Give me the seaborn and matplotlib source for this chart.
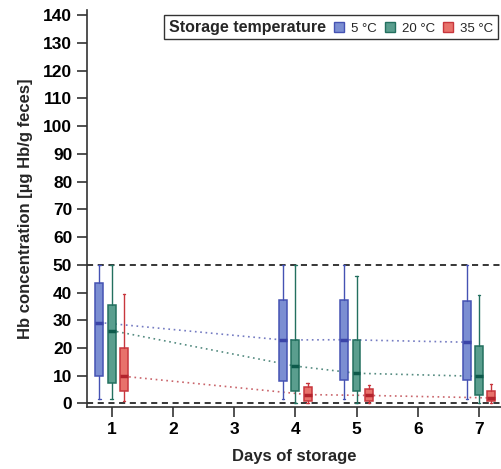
import numpy as np
import matplotlib
matplotlib.use("Agg")
import matplotlib.pyplot as plt
import seaborn as sns
import pandas as pd
from matplotlib.patches import Rectangle

# values
days = [1, 4, 5, 7]
temps = ["5 °C", "20 °C", "35 °C"]
offsets = [-0.2, 0.0, 0.2]
fill_colors = ["#7b8ed2", "#5a9e8e", "#e8726b"]
edge_colors = ["#4552b3", "#23705f", "#c8363d"]
median_colors = ["#3a44a8", "#0d5a4b", "#b3232c"]

whisk_lo = {"5 °C": [1.5, 1.5, 1.5, 1.5], "20 °C": [1.5, 0.3, 0.3, 0.3], "35 °C": [1.0, 0.3, 0.2, 0.2]}
q1 = {"5 °C": [10, 8, 8.5, 8.5], "20 °C": [7.5, 4.5, 4.5, 3.2], "35 °C": [4.5, 1.0, 1.0, 0.8]}
med = {"5 °C": [29.2, 22.9, 23.0, 22.1], "20 °C": [26.3, 13.5, 10.9, 9.8], "35 °C": [9.8, 3.2, 2.9, 2.0]}
q3 = {"5 °C": [43.5, 37.2, 37.5, 36.8], "20 °C": [35.6, 23.0, 23.0, 20.8], "35 °C": [20.0, 6.0, 5.3, 4.6]}
whisk_hi = {"5 °C": [50, 50, 50, 50], "20 °C": [50, 50, 45.8, 39.0], "35 °C": [39.5, 7.3, 6.8, 7.2]}

sns.set_style("ticks")
plt.rcParams["font.family"] = ["Liberation Sans", "DejaVu Sans"]
fig = plt.figure(figsize=(5.02, 4.69), dpi=100)
ax = fig.add_axes([0.173, 0.132, 0.827, 0.846])

# median trend lines
rows = []
for t, off in zip(temps, offsets):
    for i, d in enumerate(days):
        rows.append({"x": d + off, "median": med[t][i], "temp": t})
df = pd.DataFrame(rows)
sns.lineplot(data=df, x="x", y="median", hue="temp", palette=dict(zip(temps, median_colors)),
             linestyle=(0, (1, 2.2)), linewidth=1.2, legend=False, ax=ax, alpha=0.7, zorder=2)

for k, (t, off) in enumerate(zip(temps, offsets)):
    stats = []
    for i, d in enumerate(days):
        stats.append({"whislo": whisk_lo[t][i], "q1": q1[t][i], "med": med[t][i],
                      "q3": q3[t][i], "whishi": whisk_hi[t][i], "fliers": []})
    ax.bxp(stats, positions=[d + off for d in days], widths=0.13, patch_artist=True,
           showfliers=False, manage_ticks=False,
           boxprops=dict(facecolor=fill_colors[k], edgecolor=edge_colors[k], linewidth=1.1),
           whiskerprops=dict(color=edge_colors[k], linewidth=1.0),
           capprops=dict(color=edge_colors[k], linewidth=1.0),
           medianprops=dict(color=median_colors[k], linewidth=2.5),
           capwidths=0.04, zorder=3)

ax.axhline(50, color="black", linestyle=(0, (4, 3)), linewidth=1.1, zorder=1)
ax.axhline(0, color="black", linestyle=(0, (4, 3)), linewidth=1.1, zorder=1)

ax.set_xlim(0.596, 7.376)
ax.set_ylim(-1.3, 141.8)
ax.set_xticks(range(1, 8))
ax.set_yticks(range(0, 141, 10))
ax.tick_params(axis="both", labelsize=12.5, width=1.2, length=7, colors="#333333", labelcolor="black")
for lab in ax.get_xticklabels() + ax.get_yticklabels():
    lab.set_fontweight("bold")
ax.spines["left"].set_color("#333333")
ax.spines["bottom"].set_color("#333333")
ax.spines["left"].set_linewidth(1.2)
ax.spines["bottom"].set_linewidth(1.2)
sns.despine(ax=ax)

ax.set_xlabel("Days of storage", fontsize=12, fontweight="bold", labelpad=9)
ax.set_ylabel("Hb concentration [µg Hb/g feces]", fontsize=12, fontweight="bold", labelpad=7)

handles = [Rectangle((0, 0), 1, 1, visible=False)]
handles += [Rectangle((0, 0), 1, 1, facecolor=fill_colors[k], edgecolor=edge_colors[k]) for k in range(3)]
labels = ["Storage temperature"] + temps
leg = ax.legend(handles, labels, ncol=4, loc="upper right", bbox_to_anchor=(0.996, 0.995),
                frameon=True, fancybox=False, edgecolor="black", fontsize=9.5,
                handlelength=0.75, handleheight=0.75, handletextpad=0.5, columnspacing=0.65,
                borderpad=0.35, borderaxespad=0.2)
leg.get_frame().set_linewidth(1.0)
leg.get_texts()[0].set_fontweight("bold")
leg.get_texts()[0].set_fontsize(11.5)
# drop the empty slot in front of the title text
try:
    first_item = leg._legend_handle_box.get_children()[0].get_children()[0]
    first_item.get_children()[0].width = 0
    first_item.sep = 0
except Exception:
    pass

fig.savefig("out.png", dpi=100)
